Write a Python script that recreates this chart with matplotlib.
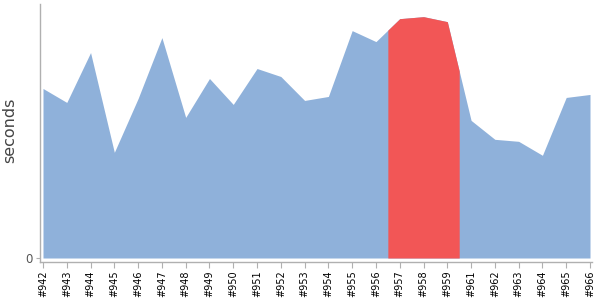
import numpy as np
import matplotlib
matplotlib.use('Agg')
import matplotlib.pyplot as plt

# builds and duration (arbitrary units)
builds = ['#942', '#943', '#944', '#945', '#946', '#947', '#948', '#949',
          '#950', '#951', '#952', '#953', '#954', '#955', '#956', '#957',
          '#958', '#959', '#961', '#962', '#963', '#964', '#965', '#966']
seconds = [170, 156, 206, 106, 160, 221, 141, 180,
           154, 190, 182, 158, 162, 228, 217, 240,
           242, 237, 138, 119, 117, 103, 161, 164]
failed = ['#957', '#958', '#959']

azul = '#8fb1da'
rojo = '#f25656'
gris = '#b0b0b0'

x = np.arange(len(builds))
y = np.array(seconds, dtype=float)

fig = plt.figure(figsize=(6, 3), dpi=100)
ax = fig.add_axes([40/600, 38/300, 552/600, 258/300])

# area completa
ax.fill_between(x, 0, y, color=azul, linewidth=0)

# tramo de builds fallidos, de mitad a mitad entre vecinos
idx = [builds.index(b) for b in failed]
a = idx[0] - 0.5
b = idx[-1] + 0.5
xr = np.concatenate(([a], x[idx[0]:idx[-1]+1], [b]))
yr = np.interp(xr, x, y)
ax.fill_between(xr, 0, yr, color=rojo, linewidth=0)

ax.set_xlim(-0.126, len(builds) - 1 + 0.084)
ax.set_ylim(-4, 254.7)

ax.set_xticks(x)
ax.set_xticklabels(builds, rotation=90, fontsize=7)
ax.set_yticks([0])
ax.set_yticklabels(['0'], fontsize=8.5, color='#555555')
ax.tick_params(axis='x', length=4, color=gris, pad=2)
ax.tick_params(axis='y', length=3, color=gris, pad=2)

for s in ['top', 'right']:
    ax.spines[s].set_visible(False)
for s in ['left', 'bottom']:
    ax.spines[s].set_color(gris)
    ax.spines[s].set_linewidth(1)

ax.set_ylabel('seconds', fontsize=11.5, color='#444444')
ax.yaxis.set_label_coords(-0.042, 0.51)

fig.savefig('out.png', dpi=100)
